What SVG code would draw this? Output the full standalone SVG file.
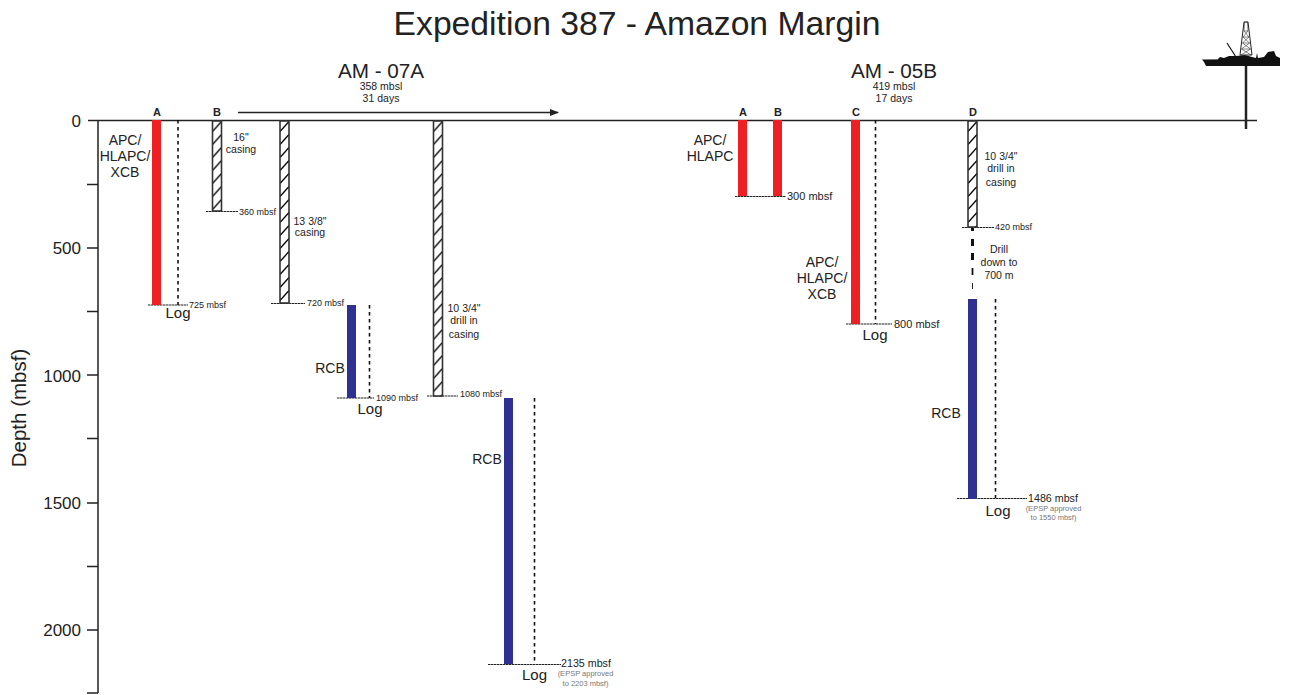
<svg xmlns="http://www.w3.org/2000/svg" width="1294" height="695" viewBox="0 0 1294 695">
<style>
text{font-family:"Liberation Sans",Arial,sans-serif;fill:#222}
.t{font-size:14px;text-anchor:middle}
.c{font-size:10.500px;text-anchor:middle}
.d{font-size:9px}
.d2{font-size:11px}
.d3{font-size:10.700px}
.e{font-size:7.500px;fill:#777;text-anchor:middle}
.l{font-size:15px;text-anchor:middle}
.hd{font-size:11px;font-weight:bold;text-anchor:middle}
.ax{font-size:17px;text-anchor:end}
.ln{stroke:#222;stroke-width:1.500;fill:none}
.dep{stroke:#222;stroke-width:1;stroke-dasharray:2.500 0.500;fill:none}
.log{stroke:#111;stroke-width:1.600;stroke-dasharray:3.500 3.500;fill:none}
.red{fill:#ee2024}
.blue{fill:#2e3192}
.cas{stroke:#333;stroke-width:1.600}
.tile{fill:#fff}
.hl{stroke:#000;stroke-width:1.300}
</style>
<defs>
<g id="tile"><rect class="tile" width="9" height="13"/><path class="hl" d="M0 11.500L9 1.500"/></g>
<pattern id="h1" patternUnits="userSpaceOnUse" x="212.500" y="120" width="9" height="13"><use href="#tile"/></pattern>
<pattern id="h2" patternUnits="userSpaceOnUse" x="280" y="120" width="9" height="13"><use href="#tile"/></pattern>
<pattern id="h3" patternUnits="userSpaceOnUse" x="433.500" y="120" width="9" height="13"><use href="#tile"/></pattern>
<pattern id="h4" patternUnits="userSpaceOnUse" x="968" y="120" width="9" height="13"><use href="#tile"/></pattern>
<marker id="arr" markerWidth="9" markerHeight="7" refX="8" refY="3.500" orient="auto" markerUnits="userSpaceOnUse">
<path d="M0 0L9 3.500L0 7z" fill="#222"/>
</marker>
</defs>
<text x="637" y="35" style="font-size:33.700px" text-anchor="middle">Expedition 387 - Amazon Margin</text>
<text x="381" y="78" style="font-size:20.700px" text-anchor="middle">AM - 07A</text>
<text x="381" y="90" class="c">358 mbsl</text>
<text x="381" y="102" class="c">31 days</text>
<text x="894" y="78" style="font-size:20.700px" text-anchor="middle">AM - 05B</text>
<text x="894" y="90" class="c">419 mbsl</text>
<text x="894" y="102" class="c">17 days</text>
<g id="axis">
<path class="ln" d="M88 120.500H1257M98 120V693M87 184.500H98M87 248H98M87 311.500H98M87 375H98M87 438.500H98M87 503H98M87 566.500H98M87 630H98M87 693H98"/>
<text x="81" y="127" class="ax">0</text>
<text x="81" y="254" class="ax">500</text>
<text x="81" y="382" class="ax">1000</text>
<text x="81" y="509" class="ax">1500</text>
<text x="81" y="636" class="ax">2000</text>
<text transform="translate(26 408) rotate(-90)" style="font-size:20.500px" text-anchor="middle">Depth (mbsf)</text>
</g>
<g id="connectors">
<path d="M238 112.500H558" stroke="#222" stroke-width="1.300" fill="none" marker-end="url(#arr)"/>
<path class="dep" d="M148 305H188M206 211.500H238M271 303.500H305M337 398H374M427 396H458M488 664.500H561M735 196.500H786M846 324H892M962 227.500H994M957 498.500H1027"/>
<path class="log" d="M178 120V305M875.500 120V324M369.500 305V398M534.500 398V664M995.500 299V498"/>
<path d="M972.500 228V231M972.500 239V246M972.500 253V260" stroke="#111" stroke-width="3" fill="none"/>
<path d="M972.500 268V275" stroke="#111" stroke-width="1.800" fill="none"/>
<path d="M972.500 283V289" stroke="#222" stroke-width="1" fill="none"/>
</g>
<g id="hole-a-07">
<rect class="red" x="152" y="120" width="9" height="185"/>
<text x="157" y="116" class="hd">A</text>
<text x="125" y="145" class="t">APC/</text><text x="125" y="161" class="t">HLAPC/</text><text x="125" y="177" class="t">XCB</text>
<text x="189" y="308" class="d">725 mbsf</text>
<text x="178" y="318" class="l">Log</text>
</g>
<g id="hole-b-07-16">
<rect class="cas" fill="url(#h1)" x="212.500" y="121" width="9" height="90"/>
<text x="217" y="116" class="hd">B</text>
<text x="241" y="141" class="c">16"</text><text x="241" y="153" class="c">casing</text>
<text x="239" y="215" class="d">360 mbsf</text>
</g>
<g id="hole-b-07-13">
<rect class="cas" fill="url(#h2)" x="280" y="121" width="9" height="182"/>
<text x="310" y="225" class="c">13 3/8"</text><text x="310" y="236" class="c">casing</text>
<text x="307" y="306" class="d">720 mbsf</text>
</g>
<g id="hole-b-07-rcb1">
<rect class="blue" x="347" y="305" width="9" height="93"/>
<text x="330" y="373" class="t">RCB</text>
<text x="376" y="401" class="d">1090 mbsf</text>
<text x="370" y="414" class="l">Log</text>
</g>
<g id="hole-b-07-10">
<rect class="cas" fill="url(#h3)" x="433.500" y="121" width="9" height="275"/>
<text x="464" y="312" class="c">10 3/4"</text><text x="464" y="324" class="c">drill in</text><text x="464" y="338" class="c">casing</text>
<text x="460" y="397" class="d">1080 mbsf</text>
</g>
<g id="hole-b-07-rcb2">
<rect class="blue" x="504" y="398" width="9" height="266"/>
<text x="487" y="464" class="t">RCB</text>
<text x="561" y="667" class="d3">2135 mbsf</text>
<text x="534.500" y="680" class="l">Log</text>
<text x="585.500" y="676" class="e">(EPSP approved</text><text x="585.500" y="686" class="e">to 2203 mbsf)</text>
</g>
<g id="hole-a-05">
<rect class="red" x="738" y="120" width="9" height="76"/>
<text x="743" y="116" class="hd">A</text>
<text x="710" y="145" class="t">APC/</text><text x="710" y="161" class="t">HLAPC</text>
</g>
<g id="hole-b-05">
<rect class="red" x="773" y="120" width="9" height="76"/>
<text x="778" y="116" class="hd">B</text>
<text x="787" y="200" class="d2">300 mbsf</text>
</g>
<g id="hole-c-05">
<rect class="red" x="851" y="120" width="9" height="204"/>
<text x="856" y="116" class="hd">C</text>
<text x="822" y="267" class="t">APC/</text><text x="822" y="283" class="t">HLAPC/</text><text x="822" y="299" class="t">XCB</text>
<text x="894" y="328" class="d2">800 mbsf</text>
<text x="875" y="340" class="l">Log</text>
</g>
<g id="hole-d-05">
<rect class="cas" fill="url(#h4)" x="968" y="121" width="9" height="106"/>
<text x="973" y="116" class="hd">D</text>
<text x="1001" y="160" class="c">10 3/4"</text><text x="1001" y="172" class="c">drill in</text><text x="1001" y="186" class="c">casing</text>
<text x="995" y="230" class="d">420 mbsf</text>
<text x="999" y="253" class="c">Drill</text><text x="999" y="266" class="c">down to</text><text x="999" y="279" class="c">700 m</text>
<rect class="blue" x="968" y="299" width="9" height="200"/>
<text x="946" y="418" class="t">RCB</text>
<text x="1028" y="502" class="d3">1486 mbsf</text>
<text x="998" y="516" class="l">Log</text>
<text x="1053.500" y="511" class="e">(EPSP approved</text><text x="1053.500" y="520" class="e">to 1550 mbsf)</text>
</g>
<g id="ship">
<path d="M1246 66V129" stroke="#222" stroke-width="2.500"/>
<path d="M1202 59.500L1280 59V66H1206L1204 62z" fill="#111"/>
<path d="M1218 59L1220 57L1224 58L1229 56L1236 56L1245 55L1252 57L1256 58L1257 53L1258 58L1264 57L1268 52L1274 51L1276 56L1280 58V60H1218z" fill="#111"/>
<path d="M1227 43L1236 57" stroke="#111" stroke-width="1.200"/>
<path d="M1244 22H1248L1252 55H1240z" fill="#fff" stroke="#222" stroke-width="1"/>
<path d="M1244.500 22H1247.500L1248 31H1244zM1244 31L1249 37L1242.500 43L1250.500 49L1241 55M1248 31L1243 37L1249.500 43L1241.500 49L1251 55M1243 37H1249M1242.500 43H1249.500M1241.500 49H1250.500" fill="none" stroke="#333" stroke-width="0.600"/>
</g>
</svg>
